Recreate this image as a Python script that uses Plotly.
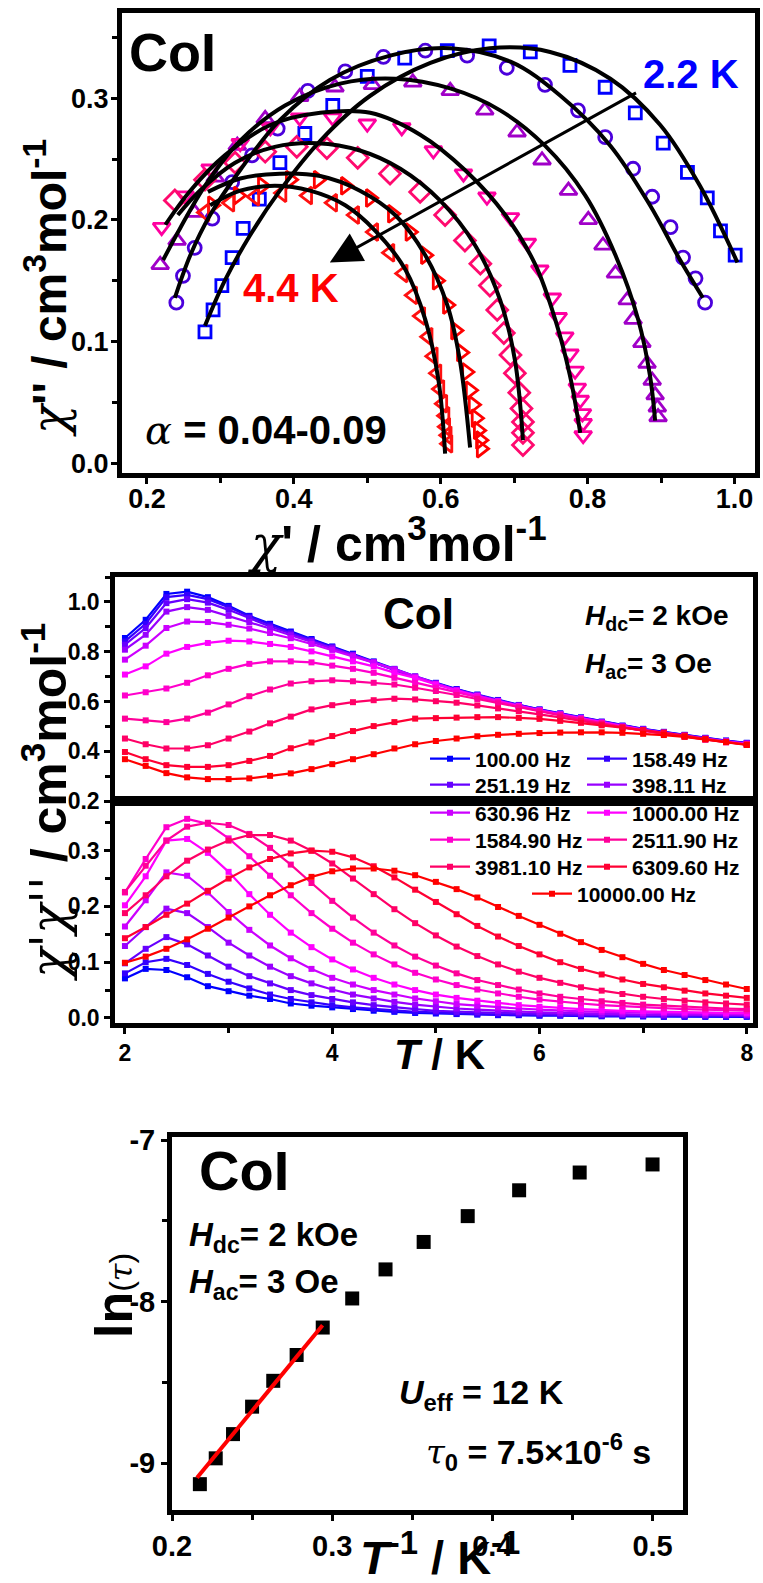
import plotly.graph_objects as go

W, H = 763, 1583
FONT = "Liberation Sans"
SERIF = "DejaVu Serif"

# ---------------- Panel 1: Cole-Cole data ----------------
cc_names = ["2.2 K", "T2", "T3", "T4", "T5", "T6", "4.4 K"]
cc_sq_x = [0.279,0.290,0.302,0.316,0.331,0.353,0.381,0.415,0.453,0.500,0.551,0.609,0.666,0.722,0.776,0.824,0.865,0.903,0.936,0.963,0.981,1.001]
cc_sq_y = [0.108,0.126,0.146,0.169,0.193,0.217,0.247,0.271,0.294,0.318,0.333,0.339,0.343,0.338,0.327,0.309,0.288,0.263,0.239,0.218,0.191,0.171]
cc_ci_x = [0.240,0.249,0.265,0.289,0.316,0.343,0.378,0.419,0.470,0.522,0.579,0.636,0.690,0.742,0.787,0.824,0.862,0.888,0.913,0.930,0.947,0.960]
cc_ci_y = [0.132,0.154,0.177,0.201,0.231,0.253,0.275,0.306,0.322,0.334,0.339,0.335,0.325,0.311,0.290,0.268,0.242,0.219,0.194,0.169,0.152,0.132]
cc_ut_x = [0.218,0.241,0.265,0.293,0.323,0.361,0.408,0.456,0.507,0.562,0.613,0.660,0.704,0.738,0.774,0.801,0.821,0.838,0.854,0.862,0.874,0.881,0.888,0.892,0.895,0.896]
cc_ut_y = [0.163,0.183,0.206,0.235,0.261,0.283,0.301,0.309,0.311,0.313,0.306,0.290,0.272,0.249,0.224,0.200,0.179,0.156,0.134,0.118,0.099,0.082,0.068,0.056,0.046,0.038]
cc_dt_x = [0.220,0.252,0.286,0.327,0.368,0.408,0.453,0.500,0.547,0.590,0.631,0.663,0.695,0.718,0.735,0.752,0.760,0.769,0.776,0.783,0.786,0.790,0.793,0.794,0.794]
cc_dt_y = [0.194,0.220,0.242,0.263,0.276,0.284,0.284,0.279,0.276,0.257,0.238,0.219,0.202,0.181,0.159,0.136,0.120,0.104,0.090,0.076,0.062,0.052,0.041,0.033,0.023]
cc_di_x = [0.238,0.279,0.320,0.361,0.404,0.445,0.487,0.531,0.572,0.606,0.633,0.654,0.667,0.677,0.686,0.695,0.701,0.707,0.710,0.712,0.712,0.712]
cc_di_y = [0.216,0.233,0.247,0.256,0.260,0.259,0.251,0.238,0.223,0.204,0.183,0.164,0.146,0.126,0.107,0.089,0.074,0.058,0.045,0.034,0.025,0.015]
cc_ra_x = [0.289,0.324,0.357,0.395,0.433,0.470,0.504,0.534,0.558,0.579,0.595,0.609,0.620,0.628,0.635,0.640,0.644,0.648,0.651,0.654,0.655]
cc_ra_y = [0.212,0.220,0.228,0.233,0.233,0.228,0.218,0.205,0.190,0.171,0.150,0.130,0.109,0.091,0.075,0.060,0.048,0.037,0.027,0.019,0.012]
cc_rb_x = [0.279,0.313,0.347,0.384,0.419,0.453,0.483,0.509,0.531,0.549,0.562,0.573,0.583,0.590,0.595,0.599,0.603,0.606,0.607,0.609,0.610]
cc_rb_y = [0.206,0.214,0.219,0.222,0.220,0.214,0.204,0.190,0.173,0.156,0.138,0.121,0.104,0.088,0.074,0.061,0.049,0.039,0.030,0.023,0.016]

# fitted curves
fit_sq_x = [0.279,0.306,0.340,0.381,0.436,0.504,0.586,0.667,0.749,0.831,0.899,0.953,1.004]
fit_sq_y = [0.113,0.150,0.187,0.224,0.265,0.302,0.329,0.341,0.338,0.316,0.278,0.228,0.165]
fit_ci_x = [0.238,0.259,0.286,0.327,0.381,0.449,0.531,0.613,0.695,0.763,0.831,0.885,0.926,0.957]
fit_ci_y = [0.136,0.171,0.204,0.241,0.282,0.315,0.335,0.341,0.330,0.302,0.261,0.212,0.167,0.136]
fit_ut_x = [0.222,0.245,0.279,0.327,0.388,0.463,0.538,0.613,0.681,0.742,0.797,0.838,0.869,0.885,0.892]
fit_ut_y = [0.167,0.193,0.228,0.265,0.294,0.312,0.316,0.308,0.290,0.261,0.220,0.171,0.118,0.072,0.035]
fit_dt_x = [0.225,0.259,0.306,0.368,0.436,0.504,0.572,0.633,0.688,0.729,0.756,0.776,0.790]
fit_dt_y = [0.196,0.224,0.253,0.278,0.288,0.288,0.270,0.241,0.204,0.163,0.118,0.072,0.025]
fit_di_x = [0.242,0.272,0.320,0.374,0.432,0.490,0.545,0.599,0.647,0.681,0.701,0.712]
fit_di_y = [0.204,0.224,0.247,0.260,0.263,0.257,0.242,0.216,0.179,0.134,0.085,0.019]
fit_ra_x = [0.283,0.327,0.381,0.436,0.490,0.538,0.579,0.609,0.626,0.640]
fit_ra_y = [0.223,0.234,0.238,0.236,0.224,0.204,0.171,0.130,0.085,0.013]
fit_rb_x = [0.286,0.327,0.374,0.422,0.470,0.511,0.552,0.579,0.597,0.606]
fit_rb_y = [0.212,0.224,0.228,0.224,0.212,0.191,0.159,0.118,0.068,0.008]

# arrow ends (data coords)
arrow_tail = (0.868, 0.305)
arrow_head = (0.449, 0.165)

# ---------------- Panel 2: chi' and chi'' vs T ----------------
freq_labels = ["100.00 Hz", "158.49 Hz", "251.19 Hz", "398.11 Hz", "630.96 Hz", "1000.00 Hz",
               "1584.90 Hz", "2511.90 Hz", "3981.10 Hz", "6309.60 Hz", "10000.00 Hz"]
T = [2.0, 2.2, 2.4, 2.6, 2.8, 3.0, 3.2, 3.4, 3.6, 3.8, 4.0, 4.2, 4.4, 4.6, 4.8, 5.0,
     5.2, 5.4, 5.6, 5.8, 6.0, 6.2, 6.4, 6.6, 6.8, 7.0, 7.2, 7.4, 7.6, 7.8, 8.0]
chi1_100 = [0.855,0.928,1.032,1.041,1.019,0.984,0.944,0.912,0.881,0.851,0.821,0.792,0.761,0.731,0.701,0.675,0.650,0.628,0.606,0.586,0.568,0.552,0.536,0.519,0.503,0.490,0.478,0.466,0.454,0.443,0.434]
chi1_158 = [0.841,0.912,1.019,1.028,1.011,0.979,0.941,0.908,0.877,0.848,0.819,0.788,0.757,0.726,0.697,0.672,0.648,0.626,0.604,0.585,0.567,0.551,0.535,0.518,0.502,0.489,0.477,0.465,0.453,0.442,0.433]
chi1_251 = [0.828,0.895,0.995,1.011,0.997,0.968,0.935,0.901,0.873,0.844,0.817,0.787,0.756,0.726,0.696,0.671,0.647,0.625,0.603,0.584,0.566,0.550,0.534,0.517,0.501,0.488,0.476,0.464,0.452,0.441,0.432]
chi1_398 = [0.808,0.868,0.961,0.979,0.968,0.944,0.919,0.893,0.866,0.840,0.813,0.786,0.758,0.729,0.699,0.671,0.646,0.624,0.602,0.583,0.565,0.549,0.533,0.516,0.500,0.487,0.475,0.463,0.451,0.440,0.431]
chi1_631 = [0.768,0.824,0.895,0.921,0.919,0.908,0.893,0.875,0.854,0.831,0.807,0.781,0.756,0.729,0.700,0.671,0.645,0.623,0.601,0.582,0.564,0.548,0.532,0.515,0.499,0.486,0.474,0.462,0.450,0.439,0.430]
chi1_1000 = [0.708,0.741,0.792,0.819,0.835,0.844,0.841,0.831,0.819,0.801,0.781,0.761,0.741,0.716,0.694,0.668,0.643,0.621,0.600,0.581,0.563,0.547,0.531,0.514,0.498,0.485,0.473,0.461,0.449,0.438,0.429]
chi1_1585 = [0.624,0.637,0.652,0.675,0.705,0.731,0.751,0.761,0.761,0.757,0.744,0.731,0.715,0.695,0.675,0.656,0.636,0.617,0.598,0.579,0.562,0.546,0.530,0.513,0.497,0.484,0.472,0.460,0.448,0.437,0.428]
chi1_2512 = [0.531,0.524,0.517,0.531,0.555,0.588,0.621,0.648,0.672,0.681,0.685,0.681,0.675,0.668,0.655,0.642,0.626,0.610,0.593,0.576,0.560,0.544,0.528,0.512,0.496,0.483,0.471,0.459,0.447,0.436,0.427]
chi1_3981 = [0.451,0.428,0.411,0.411,0.424,0.451,0.479,0.512,0.539,0.568,0.585,0.597,0.605,0.611,0.608,0.601,0.595,0.584,0.572,0.561,0.550,0.536,0.522,0.508,0.495,0.483,0.471,0.459,0.447,0.436,0.427]
chi1_6310 = [0.397,0.368,0.344,0.337,0.337,0.344,0.361,0.381,0.412,0.435,0.461,0.481,0.501,0.517,0.531,0.533,0.535,0.537,0.537,0.534,0.530,0.522,0.514,0.504,0.495,0.485,0.475,0.463,0.450,0.438,0.426]
chi1_10000 = [0.368,0.341,0.312,0.295,0.288,0.288,0.291,0.301,0.311,0.328,0.348,0.368,0.388,0.411,0.428,0.441,0.451,0.460,0.466,0.470,0.473,0.475,0.476,0.476,0.474,0.470,0.465,0.458,0.448,0.437,0.425]

chi2_100 = [0.071,0.088,0.086,0.073,0.057,0.048,0.040,0.034,0.026,0.022,0.019,0.016,0.013,0.011,0.009,0.008,0.007,0.006,0.005,0.005,0.004,0.004,0.003,0.003,0.003,0.003,0.002,0.002,0.002,0.002,0.002]
chi2_158 = [0.080,0.100,0.106,0.095,0.079,0.065,0.053,0.042,0.034,0.028,0.023,0.019,0.016,0.013,0.011,0.010,0.008,0.007,0.006,0.006,0.005,0.005,0.004,0.004,0.004,0.003,0.003,0.003,0.003,0.003,0.003]
chi2_251 = [0.098,0.124,0.145,0.132,0.112,0.092,0.075,0.062,0.050,0.041,0.034,0.028,0.023,0.019,0.016,0.013,0.011,0.010,0.009,0.008,0.007,0.006,0.006,0.005,0.005,0.005,0.004,0.004,0.004,0.004,0.004]
chi2_398 = [0.129,0.163,0.196,0.188,0.163,0.135,0.112,0.092,0.075,0.062,0.051,0.042,0.035,0.029,0.024,0.020,0.017,0.015,0.013,0.011,0.010,0.009,0.008,0.007,0.007,0.006,0.006,0.006,0.005,0.005,0.005]
chi2_631 = [0.164,0.211,0.261,0.255,0.225,0.190,0.158,0.130,0.107,0.088,0.072,0.060,0.050,0.042,0.035,0.030,0.025,0.022,0.019,0.017,0.015,0.013,0.012,0.011,0.010,0.009,0.009,0.008,0.008,0.007,0.007]
chi2_1000 = [0.202,0.254,0.318,0.321,0.296,0.262,0.222,0.185,0.153,0.127,0.105,0.087,0.072,0.060,0.050,0.042,0.036,0.031,0.027,0.023,0.020,0.018,0.016,0.014,0.013,0.012,0.011,0.010,0.010,0.009,0.009]
chi2_1585 = [0.225,0.285,0.342,0.357,0.348,0.322,0.290,0.255,0.220,0.188,0.160,0.135,0.114,0.096,0.081,0.069,0.059,0.051,0.044,0.038,0.033,0.029,0.026,0.023,0.021,0.019,0.017,0.016,0.015,0.014,0.013]
chi2_2512 = [0.226,0.273,0.318,0.343,0.350,0.346,0.330,0.305,0.275,0.242,0.210,0.180,0.153,0.130,0.110,0.094,0.080,0.068,0.059,0.051,0.044,0.038,0.034,0.030,0.027,0.024,0.022,0.020,0.018,0.017,0.016]
chi2_3981 = [0.188,0.220,0.254,0.282,0.302,0.318,0.328,0.328,0.318,0.300,0.277,0.250,0.222,0.195,0.170,0.148,0.128,0.111,0.096,0.083,0.072,0.063,0.055,0.049,0.043,0.038,0.034,0.031,0.028,0.026,0.024]
chi2_6310 = [0.143,0.163,0.185,0.205,0.228,0.250,0.270,0.285,0.295,0.300,0.298,0.288,0.272,0.252,0.230,0.208,0.186,0.165,0.146,0.129,0.114,0.100,0.088,0.078,0.069,0.061,0.055,0.049,0.044,0.040,0.036]
chi2_10000 = [0.099,0.110,0.124,0.141,0.160,0.180,0.200,0.220,0.238,0.253,0.263,0.268,0.268,0.264,0.256,0.244,0.231,0.216,0.199,0.183,0.167,0.151,0.136,0.122,0.109,0.097,0.086,0.077,0.068,0.060,0.052]

chi1_all = [chi1_100, chi1_158, chi1_251, chi1_398, chi1_631, chi1_1000, chi1_1585, chi1_2512, chi1_3981, chi1_6310, chi1_10000]
chi2_all = [chi2_100, chi2_158, chi2_251, chi2_398, chi2_631, chi2_1000, chi2_1585, chi2_2512, chi2_3981, chi2_6310, chi2_10000]
freq_colors = ["#0000FF", "#3300FF", "#6600FF", "#9900FF", "#CC00FF", "#FF00FF",
               "#FF00CC", "#FF0099", "#FF0066", "#FF0033", "#FF0000"]

# ---------------- Panel 3: Arrhenius ----------------
inv_T = [0.2174, 0.2273, 0.2381, 0.2500, 0.2632, 0.2778, 0.2941, 0.3125, 0.3333, 0.3571, 0.3846, 0.4167, 0.4545, 0.5000]
ln_tau = [-9.13, -8.97, -8.82, -8.65, -8.49, -8.33, -8.16, -7.98, -7.80, -7.63, -7.47, -7.31, -7.20, -7.15]
fit_inv_T = [0.2156, 0.2940]
fit_ln_tau = [-9.09, -8.146]
ln_tau_ticks = [-9, -8, -7]
ln_tau_ticktext = ["-9", "-8", "-7"]


def fx(p):
    return p / W


def fy(p):
    return 1 - p / H


fig = go.Figure()

# ---- panel 1 markers ----
cc_sets = [
    (cc_sq_x, cc_sq_y, "square-open", "#0000FF", 12),
    (cc_ci_x, cc_ci_y, "circle-open", "#4B00DC", 13),
    (cc_ut_x, cc_ut_y, "triangle-up-open", "#A000C8", 15),
    (cc_dt_x, cc_dt_y, "triangle-down-open", "#FF00A0", 15),
    (cc_di_x, cc_di_y, "diamond-open", "#FF0A6E", 16),
    (cc_ra_x, cc_ra_y, "triangle-right-open", "#FF0000", 15),
    (cc_rb_x, cc_rb_y, "triangle-left-open", "#FF1010", 15),
]
for name, (xs, ys, sym, col, sz) in zip(cc_names, cc_sets):
    fig.add_trace(go.Scatter(x=xs, y=ys, mode="markers", name=name, showlegend=False,
                             marker=dict(symbol=sym, size=sz, color=col, line=dict(width=2.8, color=col)),
                             xaxis="x", yaxis="y"))
for xs, ys in [(fit_sq_x, fit_sq_y), (fit_ci_x, fit_ci_y), (fit_ut_x, fit_ut_y), (fit_dt_x, fit_dt_y),
               (fit_di_x, fit_di_y), (fit_ra_x, fit_ra_y), (fit_rb_x, fit_rb_y)]:
    fig.add_trace(go.Scatter(x=xs, y=ys, mode="lines", showlegend=False,
                             line=dict(color="black", width=4, shape="spline", smoothing=1.0),
                             xaxis="x", yaxis="y"))

# ---- panel 2 ----
legend_rows = [[0, 1], [2, 3], [4, 5], [6, 7], [8, 9], [10]]
legend_of = {}
legend_w = {}
for r, row in enumerate(legend_rows):
    for j, i in enumerate(row):
        legend_of[i] = "legend" if r == 0 else "legend%d" % (r + 1)
        legend_w[i] = 102 if (j == 0 and len(row) == 2) else 135

for i, (lab, c1, c2, col) in enumerate(zip(freq_labels, chi1_all, chi2_all, freq_colors)):
    fig.add_trace(go.Scatter(x=T, y=c1, mode="lines+markers", name=lab, showlegend=False,
                             line=dict(color=col, width=2.2), marker=dict(symbol="square", size=6, color=col),
                             xaxis="x2", yaxis="y2"))
    fig.add_trace(go.Scatter(x=T, y=c2, mode="lines+markers", name=lab, showlegend=True,
                             legend=legend_of[i], legendwidth=legend_w[i],
                             line=dict(color=col, width=2.2), marker=dict(symbol="square", size=6, color=col),
                             xaxis="x3", yaxis="y3"))

# ---- panel 3 ----
fig.add_trace(go.Scatter(x=inv_T, y=ln_tau, mode="markers", showlegend=False,
                         marker=dict(symbol="square", size=14, color="black"),
                         xaxis="x4", yaxis="y4"))
fig.add_trace(go.Scatter(x=fit_inv_T, y=fit_ln_tau, mode="lines", showlegend=False,
                         line=dict(color="#FF0000", width=4), xaxis="x4", yaxis="y4"))


def axis(domain, rng, dtick, tick0, minor_dtick, lw, fsize, anchor, fmt=None, show=True,
         ticklen=6, standoff=0):
    d = dict(domain=domain, range=rng, dtick=dtick, tick0=tick0, anchor=anchor,
             automargin=False,
             showline=True, linecolor="black", linewidth=lw, mirror=True,
             ticks="outside" if show else "", ticklen=ticklen, tickwidth=3, tickcolor="black",
             showgrid=False, zeroline=False, showticklabels=show,
             tickfont=dict(family=FONT, size=fsize, color="black", weight="bold"))
    if standoff:
        d["ticklabelstandoff"] = standoff
    if fmt:
        d["tickformat"] = fmt
    if show and minor_dtick:
        d["minor"] = dict(dtick=minor_dtick, ticks="outside", ticklen=5, tickwidth=3, tickcolor="black", showgrid=False)
    return d


layout_axes = dict(
    xaxis=axis([fx(122), fx(755)], [0.166, 1.028], 0.2, 0.2, 0.1, 5, 27, "y", ".1f", standoff=-8),
    yaxis=axis([fy(473), fy(13)], [-0.008, 0.370], 0.1, 0, 0.05, 5, 27, "x", ".1f", standoff=-3),
    xaxis2=axis([fx(115), fx(753)], [1.904, 8.06], 2, 2, 1, 4.5, 23, "y2", show=False),
    yaxis2=axis([fy(801), fy(577)], [0.2, 1.1], 0.2, 0.2, 0.1, 4.5, 23, "x2", ".1f"),
    xaxis3=axis([fx(115), fx(753)], [1.904, 8.06], 2, 2, 1, 4.5, 23, "y3"),
    yaxis3=axis([fy(1023), fy(801)], [-0.009, 0.389], 0.1, 0, 0.05, 4.5, 23, "x3", ".1f"),
    xaxis4=axis([fx(172), fx(683)], [0.2, 0.519], 0.1, 0.2, 0.05, 5, 29, "y4", ".1f"),
    yaxis4=axis([fy(1510), fy(1137)], [-9.29, -6.98], 1, -9, 0.5, 5, 29, "x4"),
)
layout_axes["xaxis2"]["matches"] = "x3"
layout_axes["yaxis4"]["tickmode"] = "array"
layout_axes["yaxis4"]["tickvals"] = ln_tau_ticks
layout_axes["yaxis4"]["ticktext"] = ln_tau_ticktext


def ann(text, x, y, size, color="black", xanchor="center", yanchor="middle", angle=0):
    return dict(text=text, x=fx(x), y=fy(y), xref="paper", yref="paper", showarrow=False,
                xanchor=xanchor, yanchor=yanchor, textangle=angle,
                font=dict(family=FONT, size=size, color=color, weight="bold"))


def serif_it(s):
    return '<span style="font-family:%s;font-weight:normal"><i>%s</i></span>' % (SERIF, s)


annotations = [
    # panel 1
    ann("CoI", 172, 52, 54),
    ann("2.2 K", 691, 74, 40, color="#0000FF"),
    ann("4.4 K", 291, 288, 40, color="#FF0000"),
    ann(serif_it("α") + " = 0.04-0.09", 266, 430, 40),
    ann(serif_it("χ") + "'&nbsp;/&nbsp;cm<sup>3</sup>mol<sup>-1</sup>", 398, 540, 50),
    ann(serif_it("χ") + "'' / cm<sup>3</sup>mol<sup>-1</sup>", 46, 288, 48, angle=-90),
    # panel 2
    ann("CoI", 418, 614, 44),
    ann("<i>H</i><sub>dc</sub>= 2 kOe", 583, 617, 28, xanchor="left"),
    ann("<i>H</i><sub>ac</sub>= 3 Oe", 583, 666, 28, xanchor="left"),
    ann(serif_it("χ'χ''") + " / cm<sup>3</sup>mol<sup>-1</sup>", 45, 802, 50, angle=-90),
    ann("<i>T</i> / K", 440, 1054, 42),
    # panel 3
    ann("CoI", 244, 1170, 56),
    ann("<i>H</i><sub>dc</sub>= 2 kOe", 187, 1237, 33, xanchor="left"),
    ann("<i>H</i><sub>ac</sub>= 3 Oe", 187, 1284, 33, xanchor="left"),
    ann("<i>U</i><sub>eff</sub> = 12 K", 397, 1394, 34, xanchor="left"),
    ann(serif_it("τ") + "<sub>0</sub> = 7.5×10<sup>-6</sup> s", 424, 1452, 34, xanchor="left"),
    ann('ln<span style="font-size:32px;font-weight:normal">(' + serif_it("τ") + ')</span>',
        114, 1296, 52, angle=-90),
    ann("<i>T</i><sup>-1</sup> / K<sup>-1</sup>", 440, 1554, 47),
    # arrow in panel 1
    dict(x=arrow_head[0], y=arrow_head[1], ax=arrow_tail[0], ay=arrow_tail[1],
         xref="x", yref="y", axref="x", ayref="y", text="", showarrow=True,
         arrowhead=2, arrowsize=2.1, arrowwidth=3, arrowcolor="black"),
]

legend_y = [759, 785, 813, 840, 867, 894]
legend_x = [425, 425, 425, 425, 425, 527]
legends = {}
for r in range(6):
    key = "legend" if r == 0 else "legend%d" % (r + 1)
    legends[key] = dict(x=fx(legend_x[r]), y=fy(legend_y[r]), xanchor="left", yanchor="middle",
                        orientation="h", bgcolor="rgba(0,0,0,0)", borderwidth=0,
                        font=dict(family=FONT, size=21, color="black", weight="bold"),
                        itemwidth=40, tracegroupgap=0, itemclick=False)

fig.update_layout(
    width=W, height=H, margin=dict(l=0, r=0, t=0, b=0, autoexpand=False),
    paper_bgcolor="white", plot_bgcolor="white",
    annotations=annotations,
    **layout_axes, **legends,
)

fig.write_html("out.html", config={"displayModeBar": False},
               post_script="document.body.style.margin='0px';document.body.style.overflow='hidden';")
